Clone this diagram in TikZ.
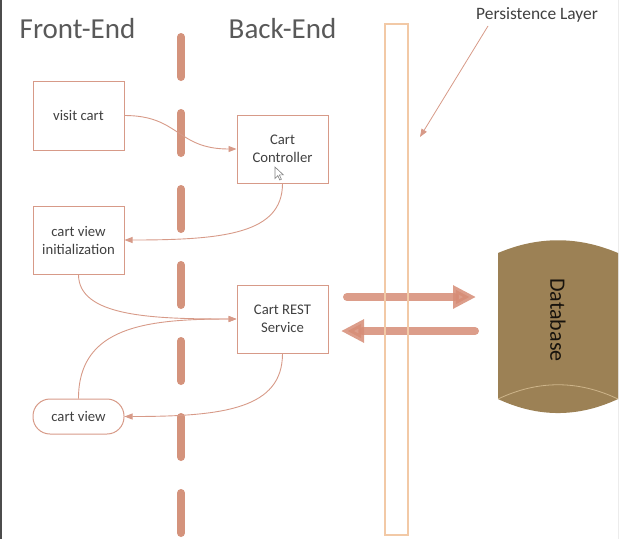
\documentclass[tikz,border=0pt]{standalone}
\usepackage{fontspec}
\setmainfont{Carlito}
\usetikzlibrary{arrows.meta}
\definecolor{salmon}{HTML}{D4937C}
\definecolor{boxline}{HTML}{D79A88}
\definecolor{layerline}{HTML}{F2C9A6}
\definecolor{dbfill}{HTML}{9C8155}
\definecolor{dbrim}{HTML}{CDB48A}
\definecolor{txt}{HTML}{404040}
\begin{document}
\begin{tikzpicture}[
x=1pt,y=-1pt,
every node/.style={text=txt},
box/.style={rectangle,draw=boxline,line width=1pt,minimum width=91pt,minimum height=68pt,
  inner sep=0pt,align=center,font=\fontsize{14.7}{18}\selectfont},
pill/.style={box,minimum height=35pt,rounded corners=17pt},
heading/.style={anchor=base,text=black!65,font=\fontsize{29}{34}\selectfont},
flow/.style={draw=boxline,line width=0.9pt,-{Triangle[length=8pt,width=6pt]}},
bigarrow/.style={draw=salmon!95!red,line width=8pt,opacity=0.85,line cap=round,
  -{Triangle[length=23pt,width=22pt]}},
]
\useasboundingbox (0,0) rectangle (620,539);
% screen edges
\draw[gray!60!black,line width=1.5pt] (0.75,0) -- (0.75,539);
\draw[gray!15,line width=1pt] (618.5,0) -- (618.5,539);

% headings
\node[heading] (front) at (77.5,38) {Front-End};
\node[heading] (back) at (282.5,38) {Back-End};
\node[anchor=base,font=\fontsize{17.4}{20}\selectfont] (perslabel) at (537,19) {Persistence Layer};

% front-end / back-end divider
\draw[salmon,line width=8pt,line cap=round,dash pattern=on 40pt off 36pt] (181,37) -- (181,533);

% boxes
\node[box,minimum height=69pt] (visit) at (78.5,115.5) {visit cart};
\node[box] (ctrl) at (282.5,149) {Cart\\Controller};
\node[box] (init) at (78.5,240) {cart view\\initialization};
\node[box] (rest) at (282.5,319) {Cart REST\\Service};
\node[pill] (cview) at (78.5,416.5) {cart view};

% mouse pointer
\draw[gray,fill=white,line width=0.6pt] (275,167) -- (275,178.5) -- (277.8,175.6) -- (279.8,180)
  -- (281.4,179.3) -- (279.4,174.9) -- (283.4,174.9) -- cycle;

% connectors
\draw[flow] (visit.east) .. controls +(55,0) and +(-60,0) .. (ctrl.west);
\draw[flow] (ctrl.south) .. controls +(0,50) and +(100,0) .. (init.east);
\draw[flow] (init.south) .. controls +(0,42) and +(-85,0) .. (rest.west);
\draw[flow] (cview.north) .. controls +(0,-72) and +(-90,0) .. (rest.west);
\draw[flow] (rest.south) .. controls +(0,55) and +(100,0) .. (cview.east);

% database
\fill[dbfill] (498,253) .. controls (538,236) and (578,236) .. (618,253)
  -- (618,399) .. controls (578,417.7) and (538,417.7) .. (498,399) -- cycle;
\draw[dbrim,line width=0.8pt] (498,399) .. controls (538,380) and (578,380) .. (618,399);
\node[rotate=-90,text=black!85!dbfill,font=\fontsize{22}{26}\selectfont] (db) at (558,320) {Database};

% data exchange
\coordinate (toA) at (347,297);
\coordinate (toB) at (476,297);
\coordinate (fromA) at (475,331);
\coordinate (fromB) at (341,331);
\draw[bigarrow] (toA) -- (toB);
\draw[bigarrow] (fromA) -- (fromB);

% persistence layer
\draw[layerline,line width=1.3pt] (385,24) rectangle (408,535);
\coordinate (perstip) at (420,137);
\draw[draw=boxline,line width=0.8pt,-{Triangle[length=8pt,width=6pt]}] (488,26) -- (perstip);
\end{tikzpicture}
\end{document}
